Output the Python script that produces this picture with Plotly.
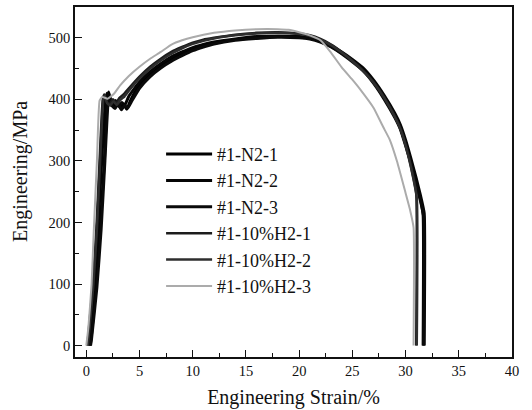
import plotly.graph_objects as go

# ---- data ----
names = ["#1-N2-1", "#1-N2-2", "#1-N2-3", "#1-10%H2-1", "#1-10%H2-2", "#1-10%H2-3"]

n2_1_x = [0.35, 0.45, 0.9, 1.3, 1.7, 1.95, 2.1, 2.3, 2.6, 2.9, 3.2, 3.5, 3.8, 4.2, 5, 6, 7, 8, 9, 10, 11, 12, 14, 16, 18, 20, 21, 22, 23, 24, 25, 26, 27, 28, 29, 29.5, 30, 30.5, 31, 31.4, 31.65, 31.65]
n2_1_y = [0, 10, 95, 190, 300, 395, 412, 398, 388, 396, 386, 392, 384, 400, 423, 440, 454, 465, 474, 481, 487, 491, 497, 500, 502, 501, 499, 494, 486, 475, 463, 449, 428, 402, 372, 354, 328, 299, 266, 238, 212, 0]

n2_2_x = [0.25, 0.35, 0.75, 1.1, 1.45, 1.8, 1.95, 2.15, 2.45, 2.75, 3.05, 3.35, 3.6, 4.0, 5, 6, 7, 8, 9, 10, 11, 12, 14, 16, 18, 20, 21, 22, 23, 24, 25, 26, 27, 28, 29, 29.5, 30, 30.5, 31, 31.4, 31.75, 31.75]
n2_2_y = [0, 10, 95, 190, 300, 398, 410, 394, 390, 398, 389, 395, 390, 405, 428, 445, 458, 469, 477, 484, 489, 493, 498, 502, 503, 502, 500, 495, 487, 477, 465, 451, 431, 406, 377, 359, 334, 304, 272, 244, 215, 0]

n2_3_x = [0.4, 0.5, 1.0, 1.4, 1.75, 2.05, 2.2, 2.4, 2.7, 3.0, 3.3, 3.6, 3.9, 4.3, 5, 6, 7, 8, 9, 10, 11, 12, 14, 16, 18, 20, 21, 22, 23, 24, 25, 26, 27, 28, 29, 29.5, 30, 30.5, 31, 31.4, 31.7, 31.7]
n2_3_y = [0, 12, 95, 190, 300, 395, 405, 390, 385, 393, 383, 390, 386, 398, 418, 437, 451, 462, 471, 479, 485, 490, 496, 499, 501, 500, 498, 493, 485, 474, 461, 447, 426, 400, 370, 352, 325, 296, 262, 235, 210, 0]

h2_1_x = [0.1, 0.6, 0.95, 1.25, 1.55, 1.7, 1.9, 2.2, 2.5, 2.8, 3.1, 3.5, 4, 5, 6, 7, 8, 9, 10, 11, 12, 14, 16, 18, 20, 21, 22, 23, 24, 25, 26, 27, 28, 29, 29.5, 30, 30.5, 31.0, 31.0]
h2_1_y = [0, 95, 190, 300, 400, 408, 396, 392, 400, 394, 402, 408, 418, 437, 453, 466, 477, 485, 492, 497, 500, 505, 508, 509, 507, 504, 498, 489, 477, 463, 447, 428, 403, 373, 354, 328, 292, 248, 0]

h2_2_x = [0.15, 0.65, 1.0, 1.3, 1.6, 1.75, 1.95, 2.25, 2.55, 2.85, 3.2, 3.6, 4.1, 5, 6, 7, 8, 9, 10, 11, 12, 14, 16, 18, 20, 21, 22, 23, 24, 25, 26, 27, 28, 29, 29.5, 30, 30.5, 31.05, 31.05]
h2_2_y = [0, 95, 190, 300, 400, 406, 394, 390, 397, 391, 399, 405, 416, 434, 450, 463, 474, 483, 490, 495, 499, 504, 507, 508, 506, 503, 497, 488, 476, 462, 446, 427, 402, 371, 352, 325, 290, 240, 0]

h2_3_x = [0, 0.2, 0.5, 0.7, 1.0, 1.25, 1.5, 2.0, 2.6, 3.2, 4, 5, 6, 7, 8, 9, 10, 12, 14, 16, 18, 19, 20, 21, 22, 22.9, 24, 25, 25.7, 27, 27.9, 28.5, 29.2, 30, 30.4, 30.75, 30.75]
h2_3_y = [0, 30, 100, 185, 300, 398, 404, 401, 409, 423, 438, 453, 466, 477, 489, 496, 501, 508, 512, 514, 514, 513, 509, 504, 496, 478, 452, 432, 417, 386, 355, 335, 299, 248, 222, 192, 0]

xs = [n2_1_x, n2_2_x, n2_3_x, h2_1_x, h2_2_x, h2_3_x]
ys = [n2_1_y, n2_2_y, n2_3_y, h2_1_y, h2_2_y, h2_3_y]

colors = ["#000000", "#050505", "#0a0a0a", "#1c1c1c", "#2e2e2e", "#ababab"]
widths = [3, 3, 3, 2.5, 2.5, 2]

x_title = "Engineering Strain/%"
y_title = "Engineering/MPa"

FONT = "Liberation Serif, Times New Roman, serif"

fig = go.Figure()
for name, x, y, c, w in zip(names, xs, ys, colors, widths):
    fig.add_trace(go.Scatter(x=x, y=y, mode="lines", name=name,
                             line=dict(color=c, width=w, shape="spline", smoothing=0.4)))

axis_common = dict(
    showline=True, linecolor="#111", linewidth=1.6, mirror=True,
    ticks="inside", ticklen=7, tickwidth=1.3, tickcolor="#111",
    showgrid=False, zeroline=False,
    tickfont=dict(family=FONT, size=14.5, color="#111"),
)

fig.update_xaxes(range=[-1.06, 40], dtick=5, tick0=0,
                 minor=dict(ticks="inside", ticklen=4, tickwidth=1.2, dtick=2.5, tickcolor="#111"),
                 title=dict(text=x_title, font=dict(family=FONT, size=20, color="#111"), standoff=12),
                 **axis_common)
fig.update_yaxes(range=[-18.5, 550], dtick=100, tick0=0,
                 minor=dict(ticks="inside", ticklen=4, tickwidth=1.2, dtick=50, tickcolor="#111"),
                 **axis_common)

fig.add_annotation(text=y_title, textangle=-90, xref="paper", yref="paper",
                   x=-0.125, y=0.53, xanchor="center", yanchor="middle", showarrow=False,
                   font=dict(family=FONT, size=20, color="#111"))

fig.update_layout(
    width=532, height=410,
    margin=dict(l=75, r=20, t=5, b=53),
    paper_bgcolor="white", plot_bgcolor="white",
    showlegend=True,
    legend=dict(x=0.197, y=0.632, xanchor="left", yanchor="top",
                bgcolor="rgba(0,0,0,0)", borderwidth=0,
                font=dict(family=FONT, size=18, color="#111"),
                itemwidth=46),
)

fig.write_html("out.html", config={"displayModeBar": False},
               post_script="document.body.style.margin='0';document.body.style.padding='0';")
